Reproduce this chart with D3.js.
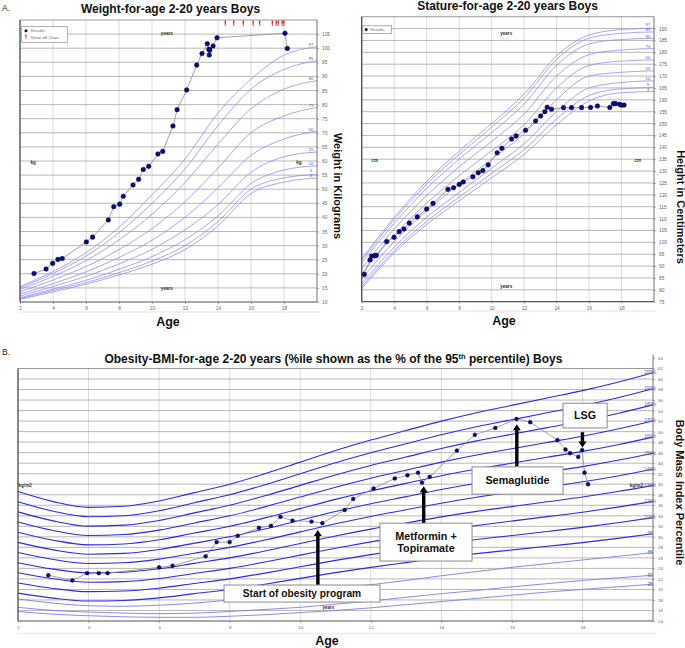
<!DOCTYPE html>
<html>
<head>
<meta charset="utf-8">
<script src="https://cdn.jsdelivr.net/npm/d3@7"></script>
<style>
  body { margin: 0; background: #fff; }
  svg { display: block; }
</style>
</head>
<body>
<div id="chart"></div>
<script>
// ---------- data ----------
var ageTicks = [2, 4, 6, 8, 10, 12, 14, 16, 18];
var weightTicks = [10, 15, 20, 25, 30, 35, 40, 45, 50, 55, 60, 65, 70, 75, 80, 85, 90, 95, 100, 105];
var statureTicks = [75, 80, 85, 90, 95, 100, 105, 110, 115, 120, 125, 130, 135, 140, 145, 150, 155, 160, 165, 170, 175, 180, 185, 190];
var bmiTicks = [14, 16, 18, 20, 22, 24, 26, 28, 30, 32, 34, 36, 38, 40, 42, 44, 46, 48, 50, 52, 54, 56, 58, 60, 62, 64];

// reference curves, ages 2..20 every 2 years
var curveAges = [2, 4, 6, 8, 10, 12, 14, 16, 18, 20];
var pctNames = ['3', '5', '10', '25', '50', '75', '90', '95', '97'];
var weightP3  = [10.9, 13.6, 16.3, 19.6, 23.4, 28.6, 37.0, 48.5, 52.5, 54.0];
var weightP5  = [11.2, 14.1, 16.9, 20.4, 24.5, 30.0, 38.5, 50.0, 54.0, 55.2];
var weightP10 = [11.5, 14.6, 17.7, 21.6, 26.1, 32.1, 40.5, 52.0, 56.8, 58.3];
var weightP25 = [12.1, 15.5, 19.1, 23.5, 28.7, 35.6, 44.5, 56.0, 61.5, 63.2];
var weightP50 = [12.8, 16.5, 20.7, 25.8, 31.9, 40.0, 50.5, 62.0, 67.8, 70.6];
var weightP75 = [13.6, 17.8, 22.6, 28.6, 36.0, 45.6, 57.5, 70.0, 76.0, 79.0];
var weightP90 = [14.4, 19.1, 24.7, 32.0, 41.1, 52.4, 66.0, 78.5, 85.5, 88.5];
var weightP95 = [15.0, 20.1, 26.3, 34.6, 45.0, 57.2, 72.5, 85.5, 92.5, 95.6];
var weightP97 = [15.5, 20.8, 27.5, 36.5, 48.0, 60.7, 77.0, 89.0, 97.5, 100.5];

var statureP3  = [80.5, 95.5, 107.5, 117.5, 127.2, 137.0, 149.5, 159.5, 163.0, 163.5];
var statureP5  = [81.3, 96.5, 108.8, 119.0, 129.0, 139.0, 152.0, 161.8, 164.6, 165.2];
var statureP10 = [82.5, 98.0, 110.5, 121.0, 131.2, 141.5, 155.0, 165.0, 167.3, 168.0];
var statureP25 = [84.5, 100.3, 113.3, 124.5, 135.0, 145.7, 160.0, 170.0, 171.6, 172.2];
var statureP50 = [86.8, 102.9, 116.5, 128.0, 138.5, 149.5, 165.0, 174.5, 176.3, 176.8];
var statureP75 = [89.0, 105.6, 119.7, 131.8, 142.5, 154.0, 170.0, 179.0, 181.0, 181.6];
var statureP90 = [91.2, 108.0, 122.7, 135.0, 146.2, 158.2, 174.5, 183.5, 185.4, 185.9];
var statureP95 = [92.3, 109.5, 124.5, 137.0, 148.5, 160.8, 177.0, 186.0, 188.0, 188.6];
var statureP97 = [93.0, 110.5, 125.7, 138.4, 150.0, 162.4, 178.5, 187.3, 189.6, 190.2];

// BMI reference, ages 2..20 every year
var bmiRefAges = [2, 3, 4, 5, 6, 7, 8, 9, 10, 11, 12, 13, 14, 15, 16, 17, 18, 19, 20];
var bmiP95 = [19.3, 18.35, 17.8, 17.9, 18.4, 19.2, 20.0, 21.0, 22.1, 23.2, 24.2, 25.1, 26.0, 26.8, 27.5, 28.2, 28.9, 29.7, 30.6];
var bmiP85 = [18.2, 17.4, 16.9, 16.8, 17.0, 17.4, 18.0, 18.6, 19.4, 20.2, 20.9, 21.7, 22.6, 23.4, 24.2, 24.9, 25.6, 26.3, 27.0];
var bmiP50 = [16.6, 16.0, 15.7, 15.5, 15.4, 15.5, 15.8, 16.2, 16.6, 17.2, 17.8, 18.5, 19.2, 19.8, 20.5, 21.1, 21.7, 22.2, 22.7];
var bmiP25 = [15.8, 15.3, 15.0, 14.8, 14.7, 14.7, 14.9, 15.2, 15.6, 16.0, 16.5, 17.1, 17.7, 18.3, 18.9, 19.5, 20.0, 20.5, 21.0];
var pctOfP95 = [200, 190, 180, 170, 160, 150, 140, 130, 120, 110, 100];

// patient results
var weightAges = [2.85, 3.58, 3.98, 4.3, 4.56, 6.02, 6.4, 7.35, 7.68, 8.04, 8.26, 8.85, 9.19, 9.47, 9.8, 10.36, 10.65, 11.27, 11.52, 12.1, 12.71, 13.03, 13.35, 13.45, 13.47, 13.5, 13.7, 13.94, 18.06, 18.2];
var weightKg = [20.1, 21.7, 23.7, 25.1, 25.4, 31.3, 33.0, 39.1, 43.8, 44.7, 47.5, 51.5, 53.5, 57.0, 58.1, 62.5, 63.4, 72.4, 78.2, 85.2, 94.0, 98.1, 101.6, 99.6, 97.6, 99.3, 100.8, 103.7, 105.3, 99.9];
var offChartAges = [14.44, 14.95, 15.53, 16.13, 16.52, 17.29, 17.52, 17.65, 17.88, 17.99];

var statureAges = [2.16, 2.51, 2.62, 2.82, 2.9, 3.54, 3.99, 4.31, 4.6, 4.93, 5.42, 6.0, 6.39, 7.31, 7.66, 8.01, 8.25, 8.85, 9.18, 9.46, 9.79, 10.34, 10.63, 11.23, 11.51, 12.09, 12.71, 13.02, 13.28, 13.42, 13.69, 14.43, 14.92, 15.54, 16.09, 16.52, 17.28, 17.5, 17.63, 17.88, 18.0, 18.16];
var statureCm = [86.5, 92.6, 94.2, 94.4, 94.5, 100.3, 102.1, 104.5, 105.6, 108.1, 110.7, 114.0, 116.4, 122.3, 123.0, 124.4, 125.4, 127.6, 129.3, 130.2, 132.6, 137.7, 139.6, 143.5, 144.8, 147.2, 151.1, 153.2, 155.0, 156.9, 156.0, 156.7, 156.7, 156.7, 156.8, 157.4, 156.8, 158.4, 158.4, 158.1, 157.7, 157.8];

var bmiAges = [2.86, 3.54, 3.96, 4.29, 4.54, 6.0, 6.38, 7.32, 7.63, 8.0, 8.23, 8.83, 9.17, 9.44, 9.78, 10.32, 10.63, 11.26, 11.5, 12.08, 12.68, 13.04, 13.34, 13.45, 13.67, 14.44, 14.95, 15.53, 16.13, 16.52, 17.29, 17.52, 17.65, 17.88, 17.99, 18.06, 18.16];
var bmiValues = [22.7, 21.7, 23.1, 23.1, 23.1, 24.2, 24.5, 26.3, 29.0, 29.0, 30.2, 31.7, 32.1, 33.8, 33.1, 32.9, 32.6, 35.1, 37.2, 39.2, 41.1, 41.7, 42.2, 40.3, 41.4, 46.4, 49.4, 50.7, 52.4, 51.8, 48.4, 46.6, 45.9, 45.2, 46.5, 42.2, 40.0];

// treatment events
var eventLabels = [['Start of obesity program'], ['Metformin +', 'Topiramate'], ['Semaglutide'], ['LSG']];
var eventAges = [10.5, 13.5, 16.14, 18.0];

// ---------- styles ----------
var font = '"Liberation Sans", Arial, Helvetica, sans-serif';
var gridDark = '#a6a6a6';
var gridLight = '#d6d6d6';
var axisColor = '#707070';
var tickText = '#666666';
var pctColor = '#8f8ff3';
var bmiColor = '#2a2af2';
var bmiLight = '#7d7df3';
var dotFill = '#0b0b80';
var dotStroke = '#000030';
var pathColor = '#8a8a8a';

var svg = d3.select('#chart').append('svg')
  .attr('width', 685)
  .attr('height', 648)
  .style('font-family', font);

function zipCurve(ages, values) {
  return ages.map(function (a, i) { return [a, values[i]]; });
}

// keep small end labels from sitting on top of each other
function spreadLabels(ys, gap) {
  var out = ys.slice();
  for (var i = 1; i < out.length; i++) {
    if (out[i - 1] - out[i] < gap) out[i] = out[i - 1] - gap;
  }
  return out;
}

function drawGrid(g, x, y, hValues, vValues) {
  var xr = x.range(), yr = y.range();
  g.append('g').selectAll('line')
    .data(vValues)
    .enter()
    .append('line')
    .attr('x1', function (d) { return x(d); })
    .attr('x2', function (d) { return x(d); })
    .attr('y1', yr[0])
    .attr('y2', yr[1])
    .attr('stroke', gridLight)
    .attr('stroke-width', 0.9);
  g.append('g').selectAll('line')
    .data(hValues)
    .enter()
    .append('line')
    .attr('x1', xr[0])
    .attr('x2', xr[1])
    .attr('y1', function (d) { return y(d); })
    .attr('y2', function (d) { return y(d); })
    .attr('stroke', gridDark)
    .attr('stroke-width', 0.8);
}

function drawFrame(g, x, y, rightTop) {
  var xr = x.range(), yr = y.range();
  g.append('line').attr('x1', xr[0]).attr('x2', xr[1]).attr('y1', yr[1]).attr('y2', yr[1])
    .attr('stroke', '#9a9a9a').attr('stroke-width', 1);
  g.append('line').attr('x1', xr[1]).attr('x2', xr[1]).attr('y1', rightTop).attr('y2', yr[0])
    .attr('stroke', axisColor).attr('stroke-width', 1);
  g.append('line').attr('x1', xr[0]).attr('x2', xr[0]).attr('y1', yr[1]).attr('y2', yr[0])
    .attr('stroke', '#555').attr('stroke-width', 1.4);
  g.append('line').attr('x1', xr[0]).attr('x2', xr[1]).attr('y1', yr[0]).attr('y2', yr[0])
    .attr('stroke', '#555').attr('stroke-width', 1.2);
}

function drawAxes(g, x, y, yTicks, fontSize) {
  var xr = x.range(), yr = y.range();
  var bottom = g.append('g')
    .attr('transform', 'translate(0,' + yr[0] + ')')
    .call(d3.axisBottom(x).tickValues(ageTicks).tickSize(2).tickPadding(3));
  var right = g.append('g')
    .attr('transform', 'translate(' + xr[1] + ',0)')
    .call(d3.axisRight(y).tickValues(yTicks).tickSize(2).tickPadding(3));
  [bottom, right].forEach(function (a) {
    a.select('.domain').remove();
    a.selectAll('line').attr('stroke', axisColor).attr('stroke-width', 0.6);
    a.selectAll('text').attr('fill', tickText).attr('font-size', fontSize)
      .attr('font-family', font);
  });
}

function smallLabel(g, x, y, text, anchor) {
  g.append('text')
    .attr('x', x).attr('y', y)
    .attr('text-anchor', anchor || 'middle')
    .attr('font-size', 4.6)
    .attr('font-weight', 'bold')
    .attr('fill', '#333')
    .text(text);
}

function drawResults(g, x, y, ages, values, r) {
  var pts = zipCurve(ages, values);
  g.append('path')
    .datum(pts)
    .attr('fill', 'none')
    .attr('stroke', pathColor)
    .attr('stroke-width', 0.8)
    .attr('d', d3.line().x(function (d) { return x(d[0]); }).y(function (d) { return y(d[1]); }));
  g.append('g').selectAll('circle')
    .data(pts)
    .enter()
    .append('circle')
    .attr('cx', function (d) { return x(d[0]); })
    .attr('cy', function (d) { return y(d[1]); })
    .attr('r', r)
    .attr('fill', dotFill)
    .attr('stroke', dotStroke)
    .attr('stroke-width', 0.5);
}

function drawPercentiles(g, x, y, series, labelX) {
  var line = d3.line()
    .x(function (d) { return x(d[0]); })
    .y(function (d) { return y(d[1]); })
    .curve(d3.curveMonotoneX);
  g.append('g').selectAll('path')
    .data(series)
    .enter()
    .append('path')
    .attr('fill', 'none')
    .attr('stroke', pctColor)
    .attr('stroke-width', 0.8)
    .attr('d', function (d) { return line(zipCurve(curveAges, d)); });
  var labelY = spreadLabels(series.map(function (d) { return y(d[d.length - 1]) - 0.5; }), 5.3);
  g.append('g').selectAll('text')
    .data(series)
    .enter()
    .append('text')
    .attr('x', labelX)
    .attr('y', function (d, i) { return labelY[i]; })
    .attr('text-anchor', 'middle')
    .attr('font-size', 4.4)
    .attr('fill', '#5a5aa8')
    .text(function (d, i) { return pctNames[i]; });
}

// ---------- panel A: weight ----------
var wx = d3.scaleLinear().domain([2, 20]).range([20, 317]);
var wy = d3.scaleLinear().domain([10, 110]).range([302, 20]);
var wg = svg.append('g');
drawGrid(wg, wx, wy, weightTicks.slice(1), ageTicks.slice(1));
drawPercentiles(wg, wx, wy,
  [weightP3, weightP5, weightP10, weightP25, weightP50, weightP75, weightP90, weightP95, weightP97], 311);
drawFrame(wg, wx, wy, 20);
drawAxes(wg, wx, wy, weightTicks, 4.8);
smallLabel(wg, wx(10.9), 35, 'years');
smallLabel(wg, wx(10.9), 289.5, 'years');
smallLabel(wg, wx(2.8), 163.5, 'kg');
smallLabel(wg, wx(18.9), 163.5, 'kg');

// values off chart (red marks along the top)
wg.append('g').selectAll('rect')
  .data(offChartAges)
  .enter()
  .append('rect')
  .attr('x', function (d) { return wx(d) - 0.6; })
  .attr('y', 20.6)
  .attr('width', 1.3)
  .attr('height', 3.2)
  .attr('fill', '#e01010');
wg.append('g').selectAll('rect')
  .data(offChartAges)
  .enter()
  .append('rect')
  .attr('x', function (d) { return wx(d) - 0.6; })
  .attr('y', 24.4)
  .attr('width', 1.3)
  .attr('height', 1.2)
  .attr('fill', '#e01010');

drawResults(wg, wx, wy, weightAges, weightKg, 2.3);

// legend
var wl = wg.append('g');
wl.append('rect').attr('x', 21.7).attr('y', 26.7).attr('width', 46).attr('height', 15.6)
  .attr('fill', '#fff').attr('stroke', '#8a8a8a').attr('stroke-width', 0.7);
wl.append('circle').attr('cx', 26).attr('cy', 30.8).attr('r', 1.5).attr('fill', dotFill);
wl.append('text').attr('x', 30.5).attr('y', 32.3).attr('font-size', 4.3).attr('fill', '#666').text('Results');
wl.append('rect').attr('x', 25.4).attr('y', 34.6).attr('width', 1.1).attr('height', 2.6).attr('fill', '#e01010');
wl.append('rect').attr('x', 25.4).attr('y', 37.7).attr('width', 1.1).attr('height', 1).attr('fill', '#e01010');
wl.append('text').attr('x', 30.5).attr('y', 38.6).attr('font-size', 4.3).attr('fill', '#666').text('Value off Chart');

svg.append('text').attr('x', 2).attr('y', 10.5).attr('font-size', 8.5).attr('fill', '#222').text('A.');
svg.append('text').attr('x', 170.5).attr('y', 13).attr('text-anchor', 'middle')
  .attr('font-size', 12).attr('font-weight', 'bold').attr('fill', '#111')
  .text('Weight-for-age 2-20 years Boys');
svg.append('text').attr('x', 168).attr('y', 326).attr('text-anchor', 'middle')
  .attr('font-size', 12.5).attr('font-weight', 'bold').attr('fill', '#111').text('Age');
svg.append('text').attr('transform', 'translate(333.5,186) rotate(90)').attr('text-anchor', 'middle')
  .attr('font-size', 11).attr('font-weight', 'bold').attr('fill', '#111').text('Weight in Kilograms');

// ---------- panel A: stature ----------
var sx = d3.scaleLinear().domain([2, 20]).range([361.7, 654]);
var sy = d3.scaleLinear().domain([75, 195]).range([301.7, 16.7]);
var sg = svg.append('g');
drawGrid(sg, sx, sy, statureTicks.slice(1), ageTicks.slice(1));
drawPercentiles(sg, sx, sy,
  [statureP3, statureP5, statureP10, statureP25, statureP50, statureP75, statureP90, statureP95, statureP97], 648);
drawFrame(sg, sx, sy, 16.7);
drawAxes(sg, sx, sy, statureTicks, 4.8);
smallLabel(sg, sx(10.9), 34.5, 'years');
smallLabel(sg, sx(10.9), 288, 'years');
smallLabel(sg, sx(2.8), 161.5, 'cm');
smallLabel(sg, sx(19.0), 161.5, 'cm');
drawResults(sg, sx, sy, statureAges, statureCm, 2.3);

var sl = sg.append('g');
sl.append('rect').attr('x', 362.7).attr('y', 25.8).attr('width', 29).attr('height', 7.6)
  .attr('fill', '#fff').attr('stroke', '#8a8a8a').attr('stroke-width', 0.7);
sl.append('circle').attr('cx', 366.2).attr('cy', 29.6).attr('r', 1.5).attr('fill', dotFill);
sl.append('text').attr('x', 370).attr('y', 31.1).attr('font-size', 4.3).attr('fill', '#666').text('Results');

svg.append('text').attr('x', 507.5).attr('y', 9.5).attr('text-anchor', 'middle')
  .attr('font-size', 12).attr('font-weight', 'bold').attr('fill', '#111')
  .text('Stature-for-age 2-20 years Boys');
svg.append('text').attr('x', 504).attr('y', 325).attr('text-anchor', 'middle')
  .attr('font-size', 12.5).attr('font-weight', 'bold').attr('fill', '#111').text('Age');
svg.append('text').attr('transform', 'translate(676.5,207) rotate(90)').attr('text-anchor', 'middle')
  .attr('font-size', 11).attr('font-weight', 'bold').attr('fill', '#111').text('Height in Centimeters');

// light separators under the top charts
svg.append('line').attr('x1', 20).attr('x2', 320).attr('y1', 312).attr('y2', 312)
  .attr('stroke', '#ececec').attr('stroke-width', 1.5);
svg.append('line').attr('x1', 360).attr('x2', 656).attr('y1', 311).attr('y2', 311)
  .attr('stroke', '#ececec').attr('stroke-width', 1.5);

// ---------- panel B: BMI ----------
var bx = d3.scaleLinear().domain([2, 20]).range([18, 653]);
var by = d3.scaleLinear().domain([14, 62]).range([621, 368.5]);
var bg = svg.append('g');
drawGrid(bg, bx, by, bmiTicks.slice(1, 24), ageTicks.slice(1));

var bmiLine = d3.line()
  .x(function (d) { return bx(d[0]); })
  .y(function (d) { return by(d[1]); })
  .curve(d3.curveMonotoneX);

var bmiCurves = pctOfP95.map(function (p) {
  return { label: p === 100 ? '95' : p + '%', light: false,
    values: bmiP95.map(function (v) { return v * p / 100; }) };
});
bmiCurves.push({ label: '85', light: true, values: bmiP85 });
bmiCurves.push({ label: '50', light: true, values: bmiP50 });
bmiCurves.push({ label: '25', light: true, values: bmiP25 });

bg.append('g').selectAll('path')
  .data(bmiCurves)
  .enter()
  .append('path')
  .attr('fill', 'none')
  .attr('stroke', function (d) { return d.light ? bmiLight : bmiColor; })
  .attr('stroke-width', function (d) { return d.light ? 0.9 : 1.1; })
  .attr('d', function (d) { return bmiLine(zipCurve(bmiRefAges, d.values)); });

drawFrame(bg, bx, by, by(64.6));
drawAxes(bg, bx, by, bmiTicks, 4.4);

bg.append('g').selectAll('text')
  .data(bmiCurves)
  .enter()
  .append('text')
  .attr('x', 650)
  .attr('y', function (d) { return by(d.values[d.values.length - 1]) + 1.4; })
  .attr('text-anchor', 'middle')
  .attr('font-size', 4.6)
  .attr('fill', '#5a5aa8')
  .text(function (d) { return d.label; });

smallLabel(bg, 18.5, 486.5, 'kg/m2', 'start');
smallLabel(bg, 643, 486.5, 'kg/m2', 'end');
smallLabel(bg, bx(10.8), 608.5, 'years');

drawResults(bg, bx, by, bmiAges, bmiValues, 1.9);

// treatment events: box extents in [age, bmi], arrow from box edge to tip
var eventBoxes = [
  { a0: 7.84, a1: 12.26, b0: 20.84, b1: 17.6, from: 20.84, to: 31.3, fs: 10.2 },
  { a0: 12.26, a1: 14.87, b0: 32.6, b1: 25.4, from: 32.6, to: 39.6, fs: 10.8 },
  { a0: 14.87, a1: 17.45, b0: 43.3, b1: 38.1, from: 43.3, to: 51.4, fs: 10.8 },
  { a0: 17.45, a1: 18.7, b0: 55.4, b1: 50.7, from: 49.9, to: 47.0, fs: 10.8 }
];

var ev = bg.append('g');
eventBoxes.forEach(function (b, i) {
  var ax = bx(eventAges[i]);
  var yFrom = by(b.from), yTip = by(b.to);
  var dir = yTip < yFrom ? 1 : -1;       // 1 = pointing up
  var headLen = 6, headHalf = 4, shaftHalf = 1.7;
  var yBase = yTip + dir * headLen;
  ev.append('path')
    .attr('d', 'M' + (ax - shaftHalf) + ',' + yFrom + 'L' + (ax - shaftHalf) + ',' + yBase +
      'L' + (ax - headHalf) + ',' + yBase + 'L' + ax + ',' + yTip + 'L' + (ax + headHalf) + ',' + yBase +
      'L' + (ax + shaftHalf) + ',' + yBase + 'L' + (ax + shaftHalf) + ',' + yFrom + 'Z')
    .attr('fill', '#000');
  var x0 = bx(b.a0), x1 = bx(b.a1), y0 = by(b.b0), y1 = by(b.b1);
  ev.append('rect')
    .attr('x', x0).attr('y', y0).attr('width', x1 - x0).attr('height', y1 - y0)
    .attr('fill', '#fff').attr('stroke', '#8c8c8c').attr('stroke-width', 1);
  var lines = eventLabels[i];
  var cy = (y0 + y1) / 2;
  lines.forEach(function (t, j) {
    ev.append('text')
      .attr('x', (x0 + x1) / 2)
      .attr('y', cy + b.fs * 0.36 + (j - (lines.length - 1) / 2) * 11.5)
      .attr('text-anchor', 'middle')
      .attr('font-size', b.fs)
      .attr('font-weight', 'bold')
      .attr('fill', '#111')
      .text(t);
  });
});

svg.append('text').attr('x', 2).attr('y', 355).attr('font-size', 8.5).attr('fill', '#222').text('B.');
var bt = svg.append('text').attr('x', 333.4).attr('y', 363).attr('text-anchor', 'middle')
  .attr('font-size', 12).attr('font-weight', 'bold').attr('fill', '#111');
bt.append('tspan').text('Obesity-BMI-for-age 2-20 years (%ile shown as the % of the 95');
bt.append('tspan').attr('font-size', 7.5).attr('dy', -4.5).text('th');
bt.append('tspan').attr('dy', 4.5).text(' percentile) Boys');
svg.append('text').attr('x', 327).attr('y', 645).attr('text-anchor', 'middle')
  .attr('font-size', 12.5).attr('font-weight', 'bold').attr('fill', '#111').text('Age');
svg.append('text').attr('transform', 'translate(676,492.5) rotate(90)').attr('text-anchor', 'middle')
  .attr('font-size', 11).attr('font-weight', 'bold').attr('fill', '#111').text('Body Mass Index Percentile');
svg.append('line').attr('x1', 17).attr('x2', 656).attr('y1', 633.5).attr('y2', 633.5)
  .attr('stroke', '#ececec').attr('stroke-width', 1.5);
</script>
</body>
</html>
